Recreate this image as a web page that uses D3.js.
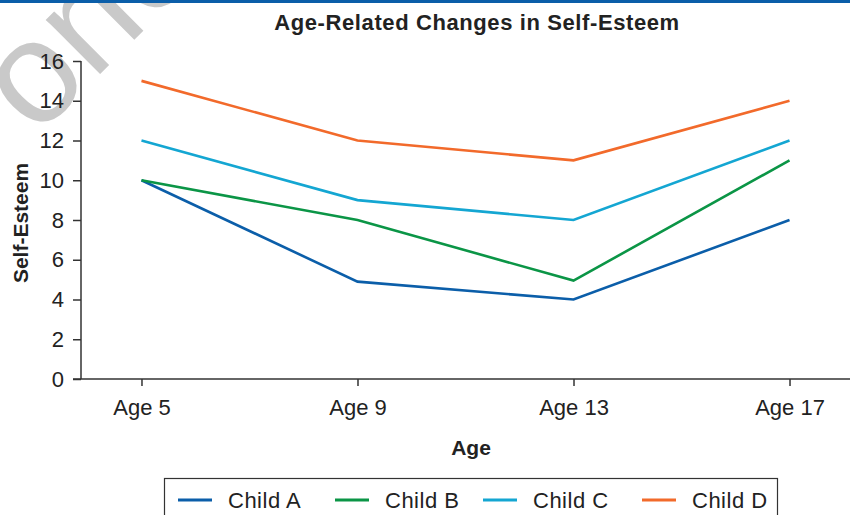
<!DOCTYPE html>
<html><head><meta charset="utf-8">
<script src="https://cdn.jsdelivr.net/npm/d3@7"></script>
<style>
html,body{margin:0;padding:0;background:#fff;}
svg{display:block;font-family:"Liberation Sans",Arial,Helvetica,sans-serif;}
</style></head>
<body>
<svg id="chart" width="850" height="515"></svg>
<script>
const categories = ["Age 5", "Age 9", "Age 13", "Age 17"];
const childA = [10, 4.9, 4, 8];
const childB = [10, 8, 4.95, 11];
const childC = [12, 9, 8, 12];
const childD = [15, 12, 11, 14];
const seriesNames = ["Child A", "Child B", "Child C", "Child D"];
const seriesColors = ["#0b5ea9", "#0b9546", "#14a6d2", "#f26a2b"];
const yTicks = [0, 2, 4, 6, 8, 10, 12, 14, 16];
const series = [childA, childB, childC, childD];

const svg = d3.select("#chart");
const axisColor = "#333";

// watermark
svg.append("text")
  .attr("transform", "translate(36,138) rotate(-45)")
  .attr("font-size", 145)
  .attr("fill", "#c9c9c9")
  .text("one");

// top bar
svg.append("rect").attr("x", 0).attr("y", 0).attr("width", 850).attr("height", 3).attr("fill", "#0b5ea9");

const x = d3.scalePoint().domain(categories).range([81, 850]).padding(0.28);
const y = d3.scaleLinear().domain([0, 16]).range([379, 61]);

// y axis
const yAxis = svg.append("g").attr("transform", "translate(81,0)")
  .call(d3.axisLeft(y).tickValues(yTicks).tickSize(8).tickPadding(9).tickFormat(d3.format("d")));
yAxis.selectAll("text").attr("font-size", 22).attr("fill", "#222").attr("font-family", "Liberation Sans, Arial, sans-serif");
yAxis.selectAll("line").attr("stroke", axisColor).attr("stroke-width", 1.5);
yAxis.select(".domain").attr("d", `M0,${y(16)}V${y(0)}`).attr("stroke", axisColor).attr("stroke-width", 1.5);

// x axis
const xAxis = svg.append("g").attr("transform", `translate(0,${y(0)})`)
  .call(d3.axisBottom(x).tickSize(7).tickPadding(13));
xAxis.selectAll("text").attr("font-size", 22).attr("fill", "#222").attr("font-family", "Liberation Sans, Arial, sans-serif");
xAxis.selectAll("line").attr("stroke", axisColor).attr("stroke-width", 1.5);
xAxis.select(".domain").attr("d", `M73,0H850`).attr("stroke", axisColor).attr("stroke-width", 1.5);

// lines
const line = d3.line().x((d, i) => x(categories[i])).y(d => y(d));
series.forEach((s, k) => {
  svg.append("path").datum(s).attr("d", line)
    .attr("fill", "none").attr("stroke", seriesColors[k]).attr("stroke-width", 2.6)
    .attr("stroke-linejoin", "miter");
});

// titles
svg.append("text").attr("x", 477).attr("y", 30).attr("text-anchor", "middle")
  .attr("font-size", 22).attr("letter-spacing", 0.6).attr("font-weight", "bold").attr("fill", "#222")
  .text("Age-Related Changes in Self-Esteem");
svg.append("text").attr("x", 471).attr("y", 455).attr("text-anchor", "middle")
  .attr("font-size", 21).attr("font-weight", "bold").attr("fill", "#222").text("Age");
svg.append("text").attr("transform", "translate(28,223) rotate(-90)").attr("text-anchor", "middle")
  .attr("font-size", 21).attr("font-weight", "bold").attr("fill", "#222").text("Self-Esteem");

// legend
const legendX = [178, 335, 483, 642];
svg.append("rect").attr("x", 164.5).attr("y", 478.5).attr("width", 613).attr("height", 60)
  .attr("fill", "none").attr("stroke", "#333").attr("stroke-width", 1.2);
const lg = svg.append("g").selectAll("g").data(seriesNames).join("g")
  .attr("transform", (d, i) => `translate(${legendX[i]},500)`);
lg.append("line").attr("x1", 0).attr("x2", 34).attr("y1", 0).attr("y2", 0)
  .attr("stroke", (d, i) => seriesColors[i]).attr("stroke-width", 3);
lg.append("text").attr("x", 50).attr("y", 7.5).attr("font-size", 22).attr("letter-spacing", 0.5).attr("fill", "#222").text(d => d);
</script>
</body></html>
